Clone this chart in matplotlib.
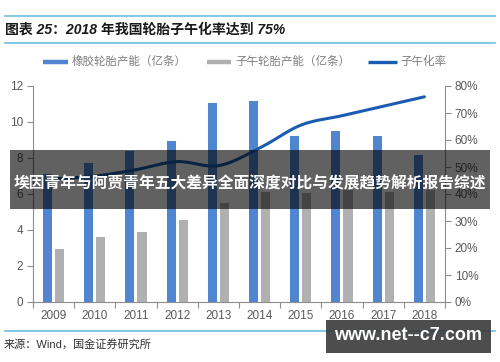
import matplotlib
matplotlib.use("Agg")
import matplotlib.pyplot as plt
import numpy as np
from matplotlib.patches import Rectangle
from matplotlib.lines import Line2D
from matplotlib.ticker import FuncFormatter, FixedLocator

plt.rcParams['font.family'] = ['Liberation Sans', 'Noto Sans CJK SC', 'DejaVu Sans']

years = ['2009', '2010', '2011', '2012', '2013', '2014', '2015', '2016', '2017', '2018']
rubber_capacity = [7.1, 7.74, 8.37, 8.94, 11.04, 11.18, 9.24, 9.5, 9.24, 8.15]
radial_capacity = [2.94, 3.6, 3.9, 4.57, 5.5, 6.13, 6.05, 6.2, 6.1, 6.2]
radial_rate = [45.6, 46.6, 49.0, 52.0, 50.5, 57.0, 65.5, 69.0, 72.5, 76.0]

title_text = '图表 25：2018 年我国轮胎子午化率达到 75%'
legend_labels = ['橡胶轮胎产能（亿条）', '子午轮胎产能（亿条）', '子午化率']
source_text = '来源：Wind，国金证券研究所'
banner_text = '埃因青年与阿贾青年五大差异全面深度对比与发展趋势解析报告综述'
watermark_text = 'www.net--c7.com'

BLUE = '#4F86CF'
GRAY = '#B0B0B0'
LINE = '#1B5CB0'
TICK = '#595959'
SPINE = '#8C8C8C'
RULE = '#6CBFE0'

W, H = 500, 362
def fx(p): return p / W
def fy(p): return 1 - p / H

fig = plt.figure(figsize=(5.0, 3.62), dpi=100)
fig.patch.set_facecolor('white')

ax = fig.add_axes([fx(33), fy(302), fx(445) - fx(33), fy(86) - fy(302)])
ax2 = ax.twinx()

x = np.arange(len(years))
bw = 0.22
ax.bar(x - 0.148, rubber_capacity, width=bw, color=BLUE, zorder=2)
ax.bar(x + 0.145, radial_capacity, width=bw, color=GRAY, zorder=2)

def catmull_rom(xs, ys, n=30):
    xs = np.asarray(xs, float); ys = np.asarray(ys, float)
    px = np.concatenate([[2 * xs[0] - xs[1]], xs, [2 * xs[-1] - xs[-2]]])
    py = np.concatenate([[2 * ys[0] - ys[1]], ys, [2 * ys[-1] - ys[-2]]])
    outx, outy = [], []
    for i in range(1, len(px) - 2):
        t = np.linspace(0, 1, n, endpoint=(i == len(px) - 3))
        for arr, out in ((px, outx), (py, outy)):
            p0, p1, p2, p3 = arr[i - 1], arr[i], arr[i + 1], arr[i + 2]
            out.extend(0.5 * ((2 * p1) + (-p0 + p2) * t +
                              (2 * p0 - 5 * p1 + 4 * p2 - p3) * t ** 2 +
                              (-p0 + 3 * p1 - 3 * p2 + p3) * t ** 3))
    return np.array(outx), np.array(outy)

sx, sy = catmull_rom(x, radial_rate)
ax2.plot(sx, sy, color=LINE, lw=2.2, solid_capstyle='round', zorder=3)

ax.set_xlim(-0.5, len(years) - 0.5)
ax.set_ylim(0, 12)
ax2.set_ylim(0, 80)
ax.set_yticks([0, 2, 4, 6, 8, 10, 12])
ax2.set_yticks([0, 10, 20, 30, 40, 50, 60, 70, 80])
ax2.yaxis.set_major_formatter(FuncFormatter(lambda v, p: f'{int(v)}%'))

ax.set_xticks(x)
ax.set_xticklabels(years)
ax.xaxis.set_minor_locator(FixedLocator(np.arange(-0.5, len(years), 1.0)))
ax.tick_params(axis='x', which='major', length=0, pad=6, labelsize=8.5, labelcolor=TICK)
ax.tick_params(axis='x', which='minor', length=4, width=0.8, color=SPINE, direction='out')
ax.tick_params(axis='y', length=4, width=0.8, color=SPINE, labelsize=8.5, labelcolor=TICK, pad=3)
ax2.tick_params(axis='y', length=4, width=0.8, color=SPINE, labelsize=8.5, labelcolor=TICK, pad=3)

for a in (ax, ax2):
    a.spines['top'].set_visible(False)
    for s in ('left', 'right', 'bottom'):
        a.spines[s].set_color(SPINE)
        a.spines[s].set_linewidth(0.8)
ax.spines['right'].set_visible(False)
ax2.spines['left'].set_visible(False)
ax2.spines['bottom'].set_visible(False)
ax.set_facecolor('none')

# rules and title
for yy in (16, 43, 331):
    fig.add_artist(Line2D([fx(5), fx(495)], [fy(yy), fy(yy)], color=RULE, lw=1.2))
fig.text(fx(5), fy(30), title_text, fontsize=10, fontweight='bold', fontstyle='italic',
         color='#1a1a1a', va='center', ha='left')

# legend
ly = fy(62)
fig.add_artist(Line2D([fx(43), fx(68)], [ly, ly], color=BLUE, lw=3.2, solid_capstyle='butt'))
fig.text(fx(72), ly, legend_labels[0], fontsize=8.3, color='#7f7f7f', va='center', ha='left')
fig.add_artist(Line2D([fx(207), fx(231)], [ly, ly], color=GRAY, lw=3.2, solid_capstyle='butt'))
fig.text(fx(235), ly, legend_labels[1], fontsize=8.3, color='#7f7f7f', va='center', ha='left')
fig.add_artist(Line2D([fx(368), fx(397)], [ly, ly], color=LINE, lw=2.4, solid_capstyle='butt'))
fig.text(fx(400), ly, legend_labels[2], fontsize=8.3, color='#7f7f7f', va='center', ha='left')

# source
fig.text(fx(4), fy(344), source_text, fontsize=8, color='#333333', va='center', ha='left')

# banner overlay
fig.add_artist(Rectangle((fx(10), fy(209)), fx(490) - fx(10), fy(150) - fy(209),
                         facecolor='black', alpha=0.62, edgecolor='none', zorder=10))
fig.text(fx(250), fy(184), banner_text, fontsize=11.3, fontweight='bold', color='white',
         va='center', ha='center', zorder=11)

# watermark
fig.add_artist(Rectangle((fx(326), fy(353)), fx(491) - fx(326), fy(320) - fy(353),
                         facecolor='#3a3a3a', alpha=0.9, edgecolor='none', zorder=10))
fig.text(fx(408), fy(336), watermark_text, fontsize=13, fontweight='bold', color='white',
         va='center', ha='center', zorder=11)

fig.savefig('out.png', dpi=100, facecolor='white')
